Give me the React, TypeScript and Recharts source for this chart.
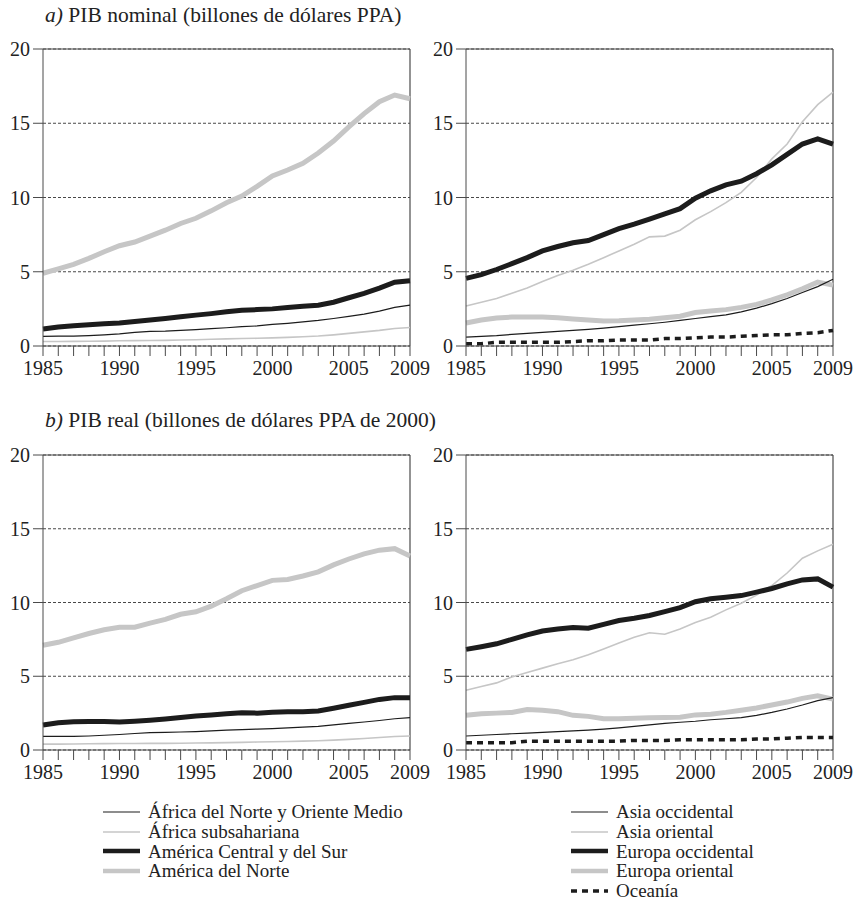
import { LineChart, Line, XAxis, YAxis, CartesianGrid, ReferenceLine } from "recharts";

const years = [
  1985, 1986, 1987, 1988, 1989, 1990, 1991, 1992, 1993, 1994, 1995, 1996, 1997,
  1998, 1999, 2000, 2001, 2002, 2003, 2004, 2005, 2006, 2007, 2008, 2009,
];
const labelYears = [1985, 1990, 1995, 2000, 2005, 2009];
const yTicks = [0, 5, 10, 15, 20];

// a) PIB nominal (billones de dólares PPA)
const nomAfricaNorte = [0.65, 0.66, 0.67, 0.7, 0.75, 0.82, 0.92, 0.98, 1.0, 1.05, 1.1, 1.17, 1.23, 1.3, 1.35, 1.45, 1.53, 1.62, 1.72, 1.85, 2.0, 2.15, 2.35, 2.6, 2.75];
const nomAfricaSub = [0.3, 0.3, 0.31, 0.32, 0.33, 0.35, 0.36, 0.37, 0.38, 0.4, 0.42, 0.45, 0.48, 0.5, 0.52, 0.55, 0.58, 0.62, 0.67, 0.75, 0.85, 0.95, 1.05, 1.18, 1.25];
const nomAmericaCS = [1.15, 1.28, 1.37, 1.43, 1.5, 1.55, 1.65, 1.75, 1.85, 1.97, 2.08, 2.18, 2.3, 2.4, 2.45, 2.5, 2.6, 2.68, 2.75, 2.95, 3.25, 3.55, 3.9, 4.3, 4.4];
const nomAmericaNorte = [4.9, 5.2, 5.5, 5.9, 6.35, 6.75, 7.0, 7.4, 7.8, 8.25, 8.6, 9.1, 9.65, 10.1, 10.75, 11.45, 11.85, 12.3, 13.0, 13.8, 14.75, 15.65, 16.45, 16.9, 16.65];
const nomAsiaOcc = [0.6, 0.65, 0.7, 0.78, 0.85, 0.92, 0.98, 1.05, 1.12, 1.2, 1.3, 1.4, 1.5, 1.6, 1.72, 1.85, 1.98, 2.1, 2.3, 2.55, 2.85, 3.2, 3.6, 4.0, 4.5];
const nomAsiaOr = [2.7, 2.95, 3.2, 3.55, 3.9, 4.35, 4.75, 5.1, 5.5, 5.95, 6.4, 6.85, 7.35, 7.4, 7.8, 8.5, 9.05, 9.65, 10.35, 11.35, 12.6, 13.6, 15.1, 16.25, 17.1];
const nomEuropaOcc = [4.55, 4.8, 5.15, 5.55, 5.95, 6.4, 6.7, 6.95, 7.1, 7.5, 7.9, 8.2, 8.55, 8.9, 9.25, 9.95, 10.45, 10.85, 11.1, 11.6, 12.2, 12.9, 13.6, 13.95, 13.6];
const nomEuropaOr = [1.55, 1.75, 1.88, 1.95, 1.95, 1.95, 1.9, 1.82, 1.75, 1.68, 1.7, 1.75, 1.8, 1.9, 2.0, 2.25, 2.35, 2.45, 2.6, 2.8, 3.1, 3.45, 3.85, 4.3, 4.1];
const nomOceania = [0.15, 0.15, 0.25, 0.25, 0.25, 0.25, 0.25, 0.3, 0.35, 0.35, 0.4, 0.4, 0.4, 0.5, 0.5, 0.55, 0.6, 0.6, 0.65, 0.7, 0.75, 0.75, 0.85, 0.9, 1.05];

// b) PIB real (billones de dólares PPA de 2000)
const realAfricaNorte = [0.92, 0.92, 0.92, 0.95, 1.0, 1.05, 1.12, 1.18, 1.2, 1.22, 1.25, 1.3, 1.35, 1.38, 1.42, 1.45, 1.5, 1.55, 1.6, 1.7, 1.8, 1.9, 2.0, 2.12, 2.2];
const realAfricaSub = [0.4, 0.4, 0.41, 0.42, 0.43, 0.44, 0.44, 0.45, 0.45, 0.46, 0.47, 0.48, 0.5, 0.52, 0.54, 0.56, 0.58, 0.6, 0.63, 0.67, 0.72, 0.78, 0.85, 0.92, 0.95];
const realAmericaCS = [1.7, 1.85, 1.92, 1.93, 1.93, 1.9, 1.95, 2.02, 2.1, 2.2, 2.3, 2.38, 2.45, 2.52, 2.5, 2.56, 2.6, 2.6, 2.65, 2.83, 3.03, 3.23, 3.43, 3.55, 3.55];
const realAmericaNorte = [7.1, 7.3, 7.6, 7.9, 8.15, 8.32, 8.32, 8.6, 8.85, 9.2, 9.37, 9.75, 10.25, 10.8, 11.15, 11.5, 11.56, 11.8, 12.08, 12.55, 12.95, 13.3, 13.55, 13.65, 13.15];
const realAsiaOcc = [0.95, 1.0, 1.05, 1.1, 1.15, 1.2, 1.25, 1.3, 1.35, 1.42, 1.5, 1.6, 1.7, 1.8, 1.88, 1.95, 2.05, 2.12, 2.2, 2.35, 2.55, 2.78, 3.05, 3.35, 3.55];
const realAsiaOr = [4.05, 4.3, 4.55, 4.95, 5.25, 5.55, 5.85, 6.12, 6.45, 6.85, 7.25, 7.65, 7.95, 7.85, 8.2, 8.65, 9.0, 9.5, 9.95, 10.5, 11.15, 12.0, 13.0, 13.5, 13.95];
const realEuropaOcc = [6.82, 7.0, 7.2, 7.5, 7.8, 8.07, 8.2, 8.3, 8.26, 8.52, 8.78, 8.93, 9.12, 9.38, 9.65, 10.05, 10.25, 10.36, 10.47, 10.7, 10.95, 11.26, 11.53, 11.6, 11.04];
const realEuropaOr = [2.35, 2.45, 2.5, 2.55, 2.75, 2.7, 2.6, 2.35, 2.28, 2.12, 2.12, 2.15, 2.18, 2.2, 2.22, 2.38, 2.43, 2.55, 2.7, 2.85, 3.05, 3.25, 3.5, 3.67, 3.45];
const realOceania = [0.5, 0.5, 0.5, 0.5, 0.6, 0.6, 0.6, 0.6, 0.6, 0.6, 0.6, 0.65, 0.65, 0.65, 0.7, 0.7, 0.7, 0.7, 0.7, 0.75, 0.75, 0.8, 0.85, 0.85, 0.85];

const BLACK = "#1c1c1c";
const GRAY = "#c6c6c6";
const AXIS = "#4a4a4a";
const FONT = '"Liberation Serif", "Times New Roman", Times, serif';

type SeriesStyle = { key: string; name: string; color: string; width: number; dash?: string };

const leftSeries: SeriesStyle[] = [
  { key: "africaNorte", name: "África del Norte y Oriente Medio", color: BLACK, width: 1.2 },
  { key: "africaSub", name: "África subsahariana", color: GRAY, width: 1.6 },
  { key: "americaCS", name: "América Central y del Sur", color: BLACK, width: 5 },
  { key: "americaNorte", name: "América del Norte", color: GRAY, width: 5 },
];

const rightSeries: SeriesStyle[] = [
  { key: "asiaOcc", name: "Asia occidental", color: BLACK, width: 1.2 },
  { key: "asiaOr", name: "Asia oriental", color: GRAY, width: 1.6 },
  { key: "europaOcc", name: "Europa occidental", color: BLACK, width: 5 },
  { key: "europaOr", name: "Europa oriental", color: GRAY, width: 5 },
  { key: "oceania", name: "Oceanía", color: BLACK, width: 3.5, dash: "6 5" },
];

// drawing order (later on top)
const leftOrder = ["africaSub", "africaNorte", "americaNorte", "americaCS"];
const rightOrder = ["europaOr", "asiaOcc", "oceania", "asiaOr", "europaOcc"];

const build = (cols: Record<string, number[]>) =>
  years.map((year, i) => {
    const row: Record<string, number> = { year };
    Object.keys(cols).forEach((k) => (row[k] = cols[k][i]));
    return row;
  });

const nomLeft = build({ africaNorte: nomAfricaNorte, africaSub: nomAfricaSub, americaCS: nomAmericaCS, americaNorte: nomAmericaNorte });
const nomRight = build({ asiaOcc: nomAsiaOcc, asiaOr: nomAsiaOr, europaOcc: nomEuropaOcc, europaOr: nomEuropaOr, oceania: nomOceania });
const realLeft = build({ africaNorte: realAfricaNorte, africaSub: realAfricaSub, americaCS: realAmericaCS, americaNorte: realAmericaNorte });
const realRight = build({ asiaOcc: realAsiaOcc, asiaOr: realAsiaOr, europaOcc: realEuropaOcc, europaOr: realEuropaOr, oceania: realOceania });

const Y_AXIS_W = 43;
const TOP_M = 10;
const X_AXIS_H = 40;

interface PanelProps {
  left: number;
  top: number;
  plotW: number;
  plotH: number;
  rightM: number;
  data: Record<string, number>[];
  series: SeriesStyle[];
  order: string[];
}

const Panel = ({ left, top, plotW, plotH, rightM, data, series, order }: PanelProps) => {
  const width = Y_AXIS_W + plotW + rightM;
  const height = TOP_M + plotH + X_AXIS_H;
  const tickStyle = { fill: "#222", fontSize: 20, fontFamily: FONT };
  return (
    <div style={{ position: "absolute", left, top, width, height }}>
      <LineChart width={width} height={height} data={data} margin={{ top: TOP_M, right: rightM, left: 0, bottom: 0 }}>
        <CartesianGrid vertical={false} stroke="#333" strokeDasharray="3 2" strokeWidth={0.9} />
        <XAxis
          dataKey="year"
          type="number"
          domain={[1985, 2009]}
          ticks={years}
          interval={0}
          tickFormatter={(v: number) => (labelYears.includes(v) ? String(v) : "")}
          tickSize={10}
          tickMargin={5}
          height={X_AXIS_H}
          stroke={AXIS}
          tick={tickStyle}
        />
        <YAxis
          type="number"
          domain={[0, 20]}
          ticks={yTicks}
          interval={0}
          tickSize={10}
          tickMargin={3}
          width={Y_AXIS_W}
          stroke={AXIS}
          tick={tickStyle}
        />
        <ReferenceLine y={20} stroke={AXIS} strokeWidth={1.2} />
        <ReferenceLine x={2009} stroke={AXIS} strokeWidth={1.2} />
        {order.map((k) => {
          const s = series.find((x) => x.key === k)!;
          return (
            <Line
              key={k}
              dataKey={k}
              name={s.name}
              type="linear"
              stroke={s.color}
              strokeWidth={s.width}
              strokeDasharray={s.dash}
              dot={false}
              isAnimationActive={false}
            />
          );
        })}
      </LineChart>
    </div>
  );
};

const LegendColumn = ({ left, top, series }: { left: number; top: number; series: SeriesStyle[] }) => (
  <div style={{ position: "absolute", left, top }}>
    {series.map((s) => (
      <div key={s.key} style={{ display: "flex", alignItems: "center", height: 19.7 }}>
        <svg width={37} height={10} style={{ marginRight: 8 }}>
          <line x1={0} x2={37} y1={5} y2={5} stroke={s.color} strokeWidth={s.width === 5 ? 4.5 : s.width} strokeDasharray={s.dash} />
        </svg>
        <span style={{ fontSize: 19, fontFamily: FONT, color: "#222", lineHeight: "19px", whiteSpace: "nowrap" }}>{s.name}</span>
      </div>
    ))}
  </div>
);

const Title = ({ top, letter, text }: { top: number; letter: string; text: string }) => (
  <div style={{ position: "absolute", left: 45, top, fontSize: 21.5, fontFamily: FONT, color: "#222", whiteSpace: "nowrap" }}>
    <i>{letter})</i> {text}
  </div>
);

export default function App() {
  return (
    <div style={{ position: "absolute", left: 0, top: 0, width: 853, height: 903, overflow: "hidden", background: "#fff" }}>
      <Title top={3} letter="a" text="PIB nominal (billones de dólares PPA)" />
      <Panel left={0} top={39} plotW={367} plotH={297} rightM={22} data={nomLeft} series={leftSeries} order={leftOrder} />
      <Panel left={423} top={39} plotW={367} plotH={297} rightM={20} data={nomRight} series={rightSeries} order={rightOrder} />
      <Title top={408} letter="b" text="PIB real (billones de dólares PPA de 2000)" />
      <Panel left={0} top={445} plotW={367} plotH={295} rightM={22} data={realLeft} series={leftSeries} order={leftOrder} />
      <Panel left={423} top={445} plotW={367} plotH={295} rightM={20} data={realRight} series={rightSeries} order={rightOrder} />
      <LegendColumn left={103} top={802} series={leftSeries} />
      <LegendColumn left={571} top={802} series={rightSeries} />
    </div>
  );
}
